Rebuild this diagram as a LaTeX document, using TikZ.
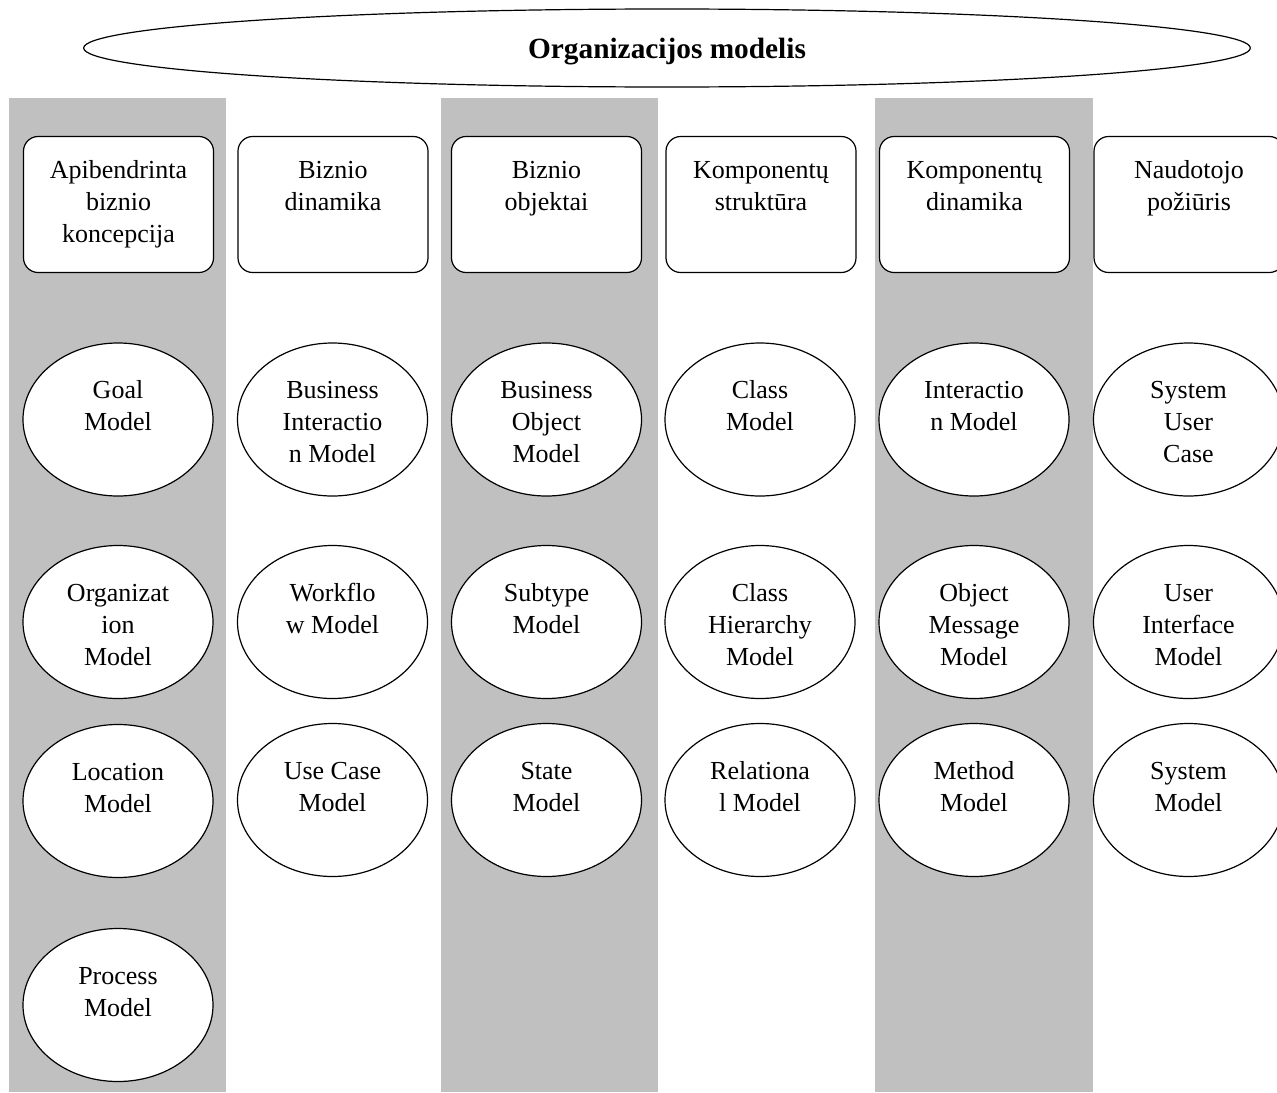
\documentclass[tikz,border=0pt]{standalone}
\usepackage{fontspec}
\setmainfont{Liberation Serif}
\usetikzlibrary{shapes.geometric}

\definecolor{bandgray}{HTML}{C0C0C0}
\newcommand\cellfont{\fontsize{19.5}{24}\selectfont}
\newcommand\titlefont{\fontsize{22}{26}\selectfont\bfseries}
% three text rows with even struts; the first row of a model may be raised
\newcommand\rows[3]{\strut#1\\\strut#2\\\strut#3}
\newcommand\mrows[3]{\rule{0pt}{23.7pt}#1\\\strut#2\\\strut#3}

\begin{document}
\begin{tikzpicture}[x=0.75pt, y=-0.75pt,
  band/.style={fill=bandgray, draw=none},
  title/.style={draw, ellipse, fill=white, line width=0.9pt,
    minimum width=875pt, minimum height=58.5pt, inner sep=0pt,
    text depth=0pt, font=\titlefont},
  view/.style={draw, rounded corners=11pt, fill=white, line width=0.9pt,
    minimum width=142.5pt, minimum height=102pt, inner sep=0pt,
    align=center, font=\cellfont},
  mdl/.style={draw, ellipse, fill=white, line width=0.9pt,
    minimum width=142.5pt, minimum height=114.75pt, inner sep=0pt,
    align=center, font=\cellfont}]

\clip (0,0) rectangle (1277,1092);
\fill[white] (0,0) rectangle (1277,1092);

% shaded columns
\fill[band] (9,98) rectangle (226,1092);
\fill[band] (441,98) rectangle (658,1092);
\fill[band] (875,98) rectangle (1093,1092);

% overall model
\node[title] (org) at (667,48) {Organizacijos modelis};

% column headers
\node[view] (h1) at (118.5,204.5) {\rows{Apibendrinta}{biznio}{koncepcija}};
\node[view] (h2) at (333,204.5)   {\rows{Biznio}{dinamika}{}};
\node[view] (h3) at (546.5,204.5) {\rows{Biznio}{objektai}{}};
\node[view] (h4) at (761,204.5)   {\rows{Komponentų}{struktūra}{}};
\node[view] (h5) at (974.5,204.5) {\rows{Komponentų}{dinamika}{}};
\node[view] (h6) at (1189,204.5)  {\rows{Naudotojo}{požiūris}{}};

% column 1
\node[mdl] (c1a) at (118,419.5) {\mrows{Goal}{Model}{}};
\node[mdl] (c1b) at (118,622)   {\mrows{Organizat}{ion}{Model}};
\node[mdl] (c1c) at (118,801)   {\mrows{Location}{Model}{}};
\node[mdl] (c1d) at (118,1005)  {\mrows{Process}{Model}{}};

% column 2
\node[mdl] (c2a) at (332.5,419.5) {\mrows{Business}{Interactio}{n Model}};
\node[mdl] (c2b) at (332.5,622)   {\mrows{Workflo}{w Model}{}};
\node[mdl] (c2c) at (332.5,800)   {\mrows{Use Case}{Model}{}};

% column 3
\node[mdl] (c3a) at (546.5,419.5) {\mrows{Business}{Object}{Model}};
\node[mdl] (c3b) at (546.5,622)   {\mrows{Subtype}{Model}{}};
\node[mdl] (c3c) at (546.5,800)   {\mrows{State}{Model}{}};

% column 4
\node[mdl] (c4a) at (760,419.5) {\mrows{Class}{Model}{}};
\node[mdl] (c4b) at (760,622)   {\mrows{Class}{Hierarchy}{Model}};
\node[mdl] (c4c) at (760,800)   {\mrows{Relationa}{l Model}{}};

% column 5
\node[mdl] (c5a) at (974,419.5) {\mrows{Interactio}{n Model}{}};
\node[mdl] (c5b) at (974,622)   {\mrows{Object}{Message}{Model}};
\node[mdl] (c5c) at (974,800)   {\mrows{Method}{Model}{}};

% column 6
\node[mdl] (c6a) at (1188.5,419.5) {\mrows{System}{User}{Case}};
\node[mdl] (c6b) at (1188.5,622)   {\mrows{User}{Interface}{Model}};
\node[mdl] (c6c) at (1188.5,800)   {\mrows{System}{Model}{}};

\end{tikzpicture}
\end{document}
